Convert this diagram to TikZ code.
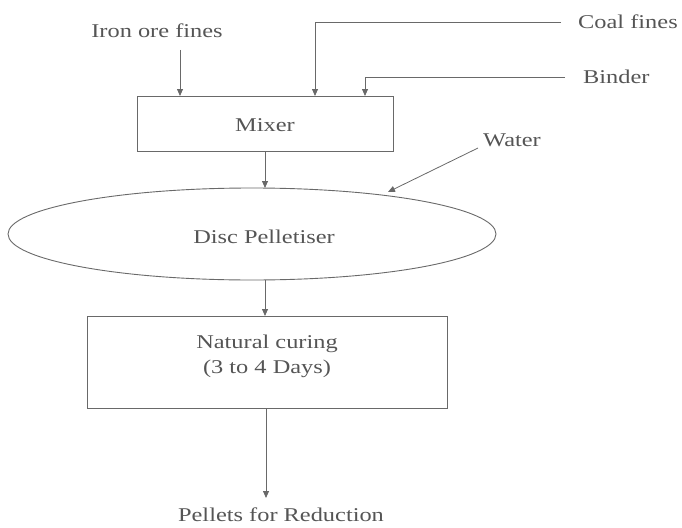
\documentclass[tikz,border=0pt]{standalone}
\usepackage{fontspec}
\setmainfont{Liberation Serif}[FakeStretch=1.25]
\usetikzlibrary{arrows.meta,shapes.geometric}
\definecolor{txtc}{RGB}{85,85,85}
\definecolor{linec}{RGB}{105,105,105}
\tikzset{
  lbl/.style={text=txtc, font=\fontsize{19.5}{25}\selectfont, inner sep=0pt, align=center},
  boxnode/.style={draw=linec, line width=0.9pt, rectangle, inner sep=0pt},
  ellnode/.style={draw=linec, line width=0.9pt, ellipse, inner sep=0pt},
  arr/.style={draw=linec, line width=0.8pt, -{Triangle[width=6pt,length=7pt]}},
  ln/.style={draw=linec, line width=0.8pt}
}
\begin{document}
\begin{tikzpicture}[x=1pt,y=-1pt]
\useasboundingbox (0,0) rectangle (682,527);
% nodes
\node[boxnode, minimum width=256pt, minimum height=55pt] (mixer) at (265,123.5) {};
\node[lbl] (mixertxt) at (265,125) {Mixer};
\node[ellnode, minimum width=488pt, minimum height=92pt] (disc) at (252,234) {};
\node[lbl] (disctxt) at (264,237) {Disc Pelletiser};
\node[boxnode, minimum width=360pt, minimum height=92pt] (cure) at (267,362) {};
\node[lbl] (curetxt) at (267,356) {Natural curing\\(3 to 4 Days)};
\node[lbl] (iron) at (157,31) {Iron ore fines};
\node[lbl, anchor=west] (coal) at (578,22) {Coal fines};
\node[lbl, anchor=west] (binder) at (583,77) {Binder};
\node[lbl, anchor=west] (water) at (483,140) {Water};
\node[lbl] (pellets) at (281,515) {Pellets for Reduction};
% coordinates
\coordinate (ironstart) at (180,50);
\coordinate (ironend) at (180,96);
\coordinate (coalstart) at (561,22);
\coordinate (coalend) at (315,96);
\coordinate (bindstart) at (565,77);
\coordinate (bindend) at (365,96);
\coordinate (watstart) at (478,148);
\coordinate (watend) at (388,192);
\coordinate (mixout) at (265,151);
\coordinate (discin) at (265,188);
\coordinate (discout) at (265,280);
\coordinate (curein) at (265,316);
\coordinate (cureout) at (266,408);
\coordinate (pelin) at (266,498);
% connectors
\draw[arr] (ironstart) -- (ironend);
\draw[arr] (coalstart) -| (coalend);
\draw[arr] (bindstart) -| (bindend);
\draw[arr] (watstart) -- (watend);
\draw[arr] (mixout) -- (discin);
\draw[arr] (discout) -- (curein);
\draw[arr] (cureout) -- (pelin);
\end{tikzpicture}
\end{document}
